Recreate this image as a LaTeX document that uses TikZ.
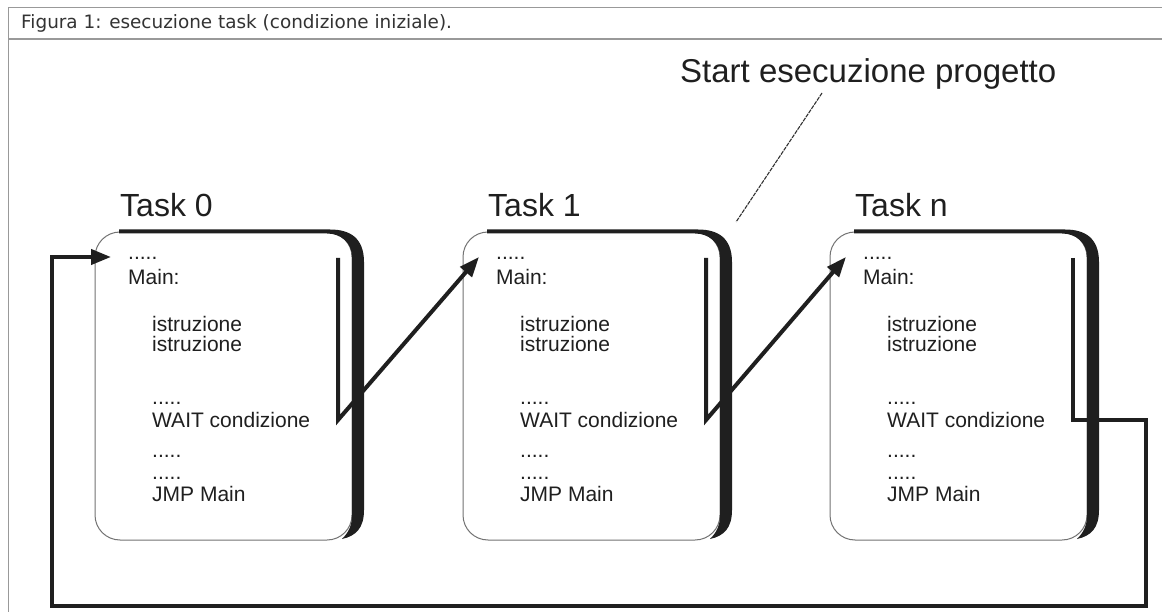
\documentclass[tikz,border=0pt]{standalone}
\usepackage{fontspec}
\setmainfont{Liberation Sans}
\newfontfamily\capfont{DejaVu Sans}
\usetikzlibrary{arrows.meta}
\begin{document}
\begin{tikzpicture}[x=1pt,y=-1pt,
  frameline/.style={draw=black!40,line width=1.5pt},
  boxline/.style={draw=black!55,line width=1pt},
  shadowfill/.style={fill=black!88},
  flow/.style={draw=black!88,line width=4pt,line join=miter},
  tiparrow/.style={-{Triangle[length=20pt,width=15pt]}},
  code/.style={anchor=base west,inner sep=0pt,font=\fontsize{21}{21}\selectfont,text=black!88},
  title/.style={anchor=base west,inner sep=0pt,font=\fontsize{32}{32}\selectfont,text=black!88},
  lead/.style={draw=black!80,line width=1.1pt,dash pattern=on 4pt off 1pt}]
\useasboundingbox (0,0) rectangle (1162,612);
\fill[white] (0,0) rectangle (1162,612);
% frame
\draw[frameline] (8.5,640) -- (8.5,7.5) -- (1170,7.5);
\draw[frameline] (8.5,39) -- (1170,39);
\node[anchor=base west,inner sep=0pt,font=\capfont\fontsize{18.4}{18.4}\selectfont,text=black!80] (cap) at (21,29) {Figura 1: esecuzione task (condizione iniziale).};
% task boxes
\foreach \L/\nm/\ttl in {95/t0/Task 0,463/t1/Task 1,830/tn/Task n}{
  \pgfmathsetmacro{\Ri}{\L+257}
  \draw[boxline,rounded corners=25pt] (\L,232) rectangle (\Ri,540);
  \fill[shadowfill] (\L+24,233.5) -- (\L+24,229.5) -- (\Ri-22,229.5)
     .. controls (\Ri-2,229.5) and (\Ri+12,238) .. (\Ri+12,262)
     -- (\Ri+12,510)
     .. controls (\Ri+12,528) and (\Ri+4,536) .. (\Ri-10,539)
     .. controls (\Ri-3,532) and (\Ri,525) .. (\Ri,515)
     -- (\Ri,257)
     .. controls (\Ri,243) and (\Ri-11,233.5) .. (\Ri-25,233.5) -- cycle;
  \node[title] (\nm) at (\L+25,217) {\ttl};
  \node[code] (\nm-d1) at (\L+33,260) {.....};
  \node[code] (\nm-main) at (\L+33,285) {Main:};
  \node[code] (\nm-i1) at (\L+57,332) {istruzione};
  \node[code] (\nm-i2) at (\L+57,352) {istruzione};
  \node[code] (\nm-d2) at (\L+57,404) {.....};
  \node[code] (\nm-w) at (\L+57,427) {WAIT condizione};
  \node[code] (\nm-d3) at (\L+57,457) {.....};
  \node[code] (\nm-d4) at (\L+57,479) {.....};
  \node[code] (\nm-j) at (\L+57,501) {JMP Main};
  \coordinate (\nm-bt) at (\Ri-14,258);
  \coordinate (\nm-bb) at (\Ri-14,420);
  \coordinate (\nm-in) at (\L+16,257);
}
% flow connectors
\draw[flow,tiparrow] (t0-bt) -- (t0-bb) -- (t1-in);
\draw[flow,tiparrow] (t1-bt) -- (t1-bb) -- (tn-in);
\coordinate (loopBR) at (1146,606);
\coordinate (loopBL) at (52,606);
\draw[flow,tiparrow] (tn-bt) -- (tn-bb) -| (loopBR) -- (loopBL) |- (t0-in);
% start label
\node[title,font=\fontsize{33}{33}\selectfont] (start) at (680,83) {Start esecuzione progetto};
\coordinate (leadTop) at (822,93);
\coordinate (leadEnd) at (736,222);
\draw[lead] (leadTop) -- (leadEnd);
\end{tikzpicture}
\end{document}
